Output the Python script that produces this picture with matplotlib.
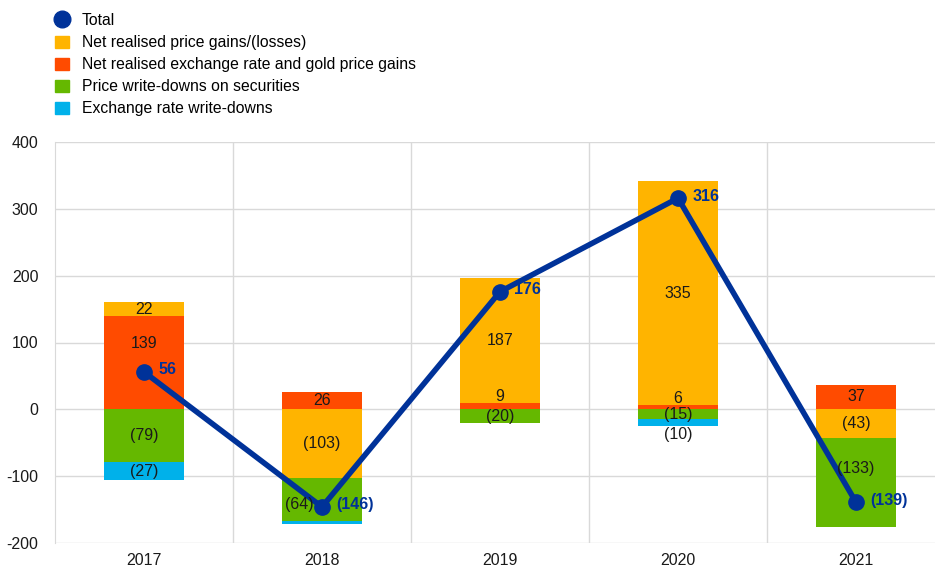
import numpy as np
import matplotlib.pyplot as plt
from matplotlib.lines import Line2D
from matplotlib.patches import Patch

plt.rcParams['font.family'] = ['Liberation Sans', 'DejaVu Sans']
plt.rcParams['axes.unicode_minus'] = False

years = ['2017', '2018', '2019', '2020', '2021']
price_gains = [22, -103, 187, 335, -43]
fx_gains = [139, 26, 9, 6, 37]
price_wd = [-79, -64, -20, -15, -133]
fx_wd = [-27, -4, 0, -10, 0]
total = [56, -146, 176, 316, -139]

c_blue = '#003299'
c_yellow = '#ffb400'
c_red = '#ff4b00'
c_green = '#65b800'
c_cyan = '#00b1ea'

fs = 11.5

def fmt(v):
    return '(%d)' % -v if v < 0 else '%d' % v

fig = plt.figure(figsize=(9.35, 5.69), dpi=100)
ax = fig.add_axes([55/935, 26/569, 880/935, 401/569])

x = np.arange(len(years))
w = 0.455

# stack positives up from zero and negatives down from zero
pos = np.zeros(len(years))
neg = np.zeros(len(years))
series = [(fx_gains, c_red), (price_gains, c_yellow), (price_wd, c_green), (fx_wd, c_cyan)]
segs = []
for vals, col in series:
    vals = np.array(vals, dtype=float)
    bottom = np.where(vals >= 0, pos, neg)
    ax.bar(x, vals, w, bottom=bottom, color=col, zorder=2)
    for i, v in enumerate(vals):
        if v != 0:
            segs.append((i, bottom[i], v))
    pos = pos + np.where(vals > 0, vals, 0)
    neg = neg + np.where(vals < 0, vals, 0)

for i, b, v in segs:
    y = b + v / 2
    dx = 0
    if abs(v) < 12:
        y = b + v + (10 if v > 0 else -12)
    if i == 1 and v == -4:
        continue
    if i == 0 and v == 139:
        y = 98
    if i == 1 and v == -64:
        dx = -0.13
        y = -143
    if i == 4 and v == -133:
        y = -88
    ax.text(i + dx, y, fmt(int(v)), ha='center', va='center', fontsize=fs, color='#1a1a1a', zorder=5)

ax.plot(x, total, color=c_blue, lw=4, marker='o', ms=11, zorder=4)
for i, t in enumerate(total):
    ax.text(i + 0.08, t + 3, fmt(t), ha='left', va='center', fontsize=fs,
            fontweight='bold', color=c_blue, zorder=5)

ax.set_ylim(-200, 400)
ax.set_yticks(range(-200, 401, 100))
ax.set_xlim(-0.5, -0.5 + 880/178)
ax.set_xticks(x)
ax.set_xticklabels(years)
ax.set_xticks(np.arange(0.5, 4.5, 1), minor=True)
ax.grid(axis='y', color='#d9d9d9', lw=1, zorder=0)
ax.grid(axis='x', which='minor', color='#d9d9d9', lw=1, zorder=0)
ax.tick_params(which='both', length=0, labelsize=fs, colors='#1a1a1a')
ax.tick_params(axis='x', pad=7)
ax.tick_params(axis='y', pad=12)
for s in ['top', 'right', 'bottom']:
    ax.spines[s].set_visible(False)
ax.spines['left'].set_color('#d9d9d9')

handles = [Line2D([], [], color=c_blue, marker='o', ls='none', ms=12),
           Patch(color=c_yellow), Patch(color=c_red), Patch(color=c_green), Patch(color=c_cyan)]
labels = ['Total', 'Net realised price gains/(losses)',
          'Net realised exchange rate and gold price gains',
          'Price write-downs on securities', 'Exchange rate write-downs']
fig.legend(handles, labels, loc='upper left', bbox_to_anchor=(45/935, 1 - 3/569), frameon=False,
           fontsize=11.3, handlelength=0.85, handleheight=0.85, handletextpad=0.85,
           labelspacing=0.45, borderaxespad=0.25)

fig.savefig('out.png', dpi=100)
